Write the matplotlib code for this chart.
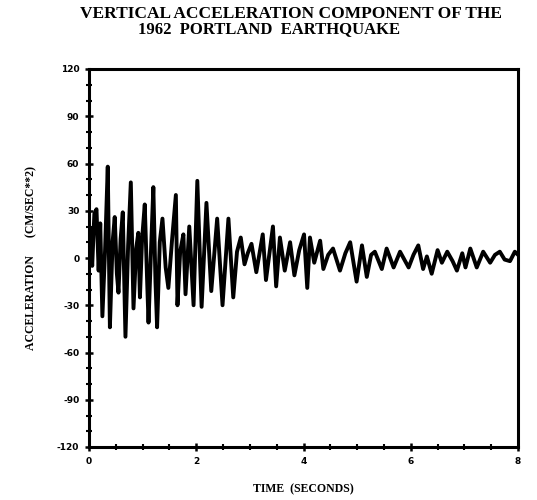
import matplotlib
matplotlib.use("Agg")
import matplotlib.pyplot as plt
from matplotlib.ticker import MultipleLocator

# extrema of the record (seconds, cm/sec^2)
time = [0.00, 0.03, 0.06, 0.10, 0.14, 0.18, 0.21, 0.25, 0.30, 0.35, 0.39,
        0.44, 0.48, 0.52, 0.55, 0.59, 0.63, 0.68, 0.73, 0.78, 0.83, 0.88,
        0.92, 0.95, 0.99, 1.04, 1.08, 1.11, 1.16, 1.20, 1.24, 1.27, 1.32,
        1.37, 1.43, 1.48, 1.55, 1.62, 1.65, 1.70, 1.76, 1.80, 1.87, 1.95,
        2.02, 2.10, 2.19, 2.28, 2.39, 2.49, 2.60, 2.69, 2.76, 2.83, 2.90,
        2.96, 3.03, 3.12, 3.24, 3.30, 3.43, 3.49, 3.56, 3.65, 3.75, 3.83,
        3.92, 4.01, 4.07, 4.12, 4.20, 4.31, 4.37, 4.46, 4.55, 4.68, 4.78,
        4.87, 4.99, 5.09, 5.18, 5.26, 5.33, 5.46, 5.55, 5.68, 5.80, 5.96,
        6.05, 6.14, 6.23, 6.30, 6.39, 6.50, 6.58, 6.68, 6.78, 6.86, 6.96,
        7.02, 7.11, 7.23, 7.35, 7.48, 7.57, 7.66, 7.75, 7.85, 7.94, 8.00]
accel = [0, 18, -5, 28, 31, -8, 22, -37, 5, 58, -44,
         10, 26, -10, -22, 12, 29, -50, 8, 48, -32, 6,
         16, -25, 12, 34, -10, -41, 8, 45, -15, -44, 10,
         25, -6, -19, 12, 40, -30, 4, 15, -23, 20, -30,
         49, -31, 35, -21, 25, -30, 25, -25, 4, 13, -4,
         3, 9, -9, 15, -14, 20, -18, 13, -8, 10, -11,
         5, 15, -19, 13, -3, 11, -7, 2, 6, -8, 3,
         10, -15, 8, -12, 2, 4, -7, 6, -6, 4, -6,
         2, 8, -7, 1, -10, 5, -3, 4, -2, -8, 3,
         -6, 6, -6, 4, -3, 2, 4, -1, -2, 4, 2]

yticks = [-120, -90, -60, -30, 0, 30, 60, 90, 120]
xticks = [0, 2, 4, 6, 8]

tickfont = {'family': 'DejaVu Sans', 'weight': 'bold', 'size': 6.5}

fig = plt.figure(figsize=(5.37, 5.0), dpi=100)
ax = fig.add_axes([0.1657, 0.106, 0.799, 0.756])

ax.plot(time, accel, color='black', linewidth=2.8, solid_joinstyle='round')

ax.set_xlim(0, 8)
ax.set_ylim(-120, 120)
ax.set_xticks(xticks)
ax.set_yticks(yticks)
ax.xaxis.set_minor_locator(MultipleLocator(0.5))
ax.yaxis.set_minor_locator(MultipleLocator(10))
ax.set_xticklabels([str(v) for v in xticks], fontdict=tickfont)
ax.set_yticklabels([str(v) for v in yticks], fontdict=tickfont)
ax.tick_params(which='major', direction='inout', length=6, width=1.8, pad=4)
ax.tick_params(which='minor', direction='inout', length=4, width=1.5)
for s in ax.spines.values():
    s.set_linewidth(2.2)

ax.set_xlabel('TIME  (SECONDS)', fontsize=8.5, fontweight='bold',
              family='Liberation Serif', labelpad=13)
ax.set_ylabel('ACCELERATION      (CM/SEC**2)', fontsize=8.5, fontweight='bold',
              family='Liberation Serif', labelpad=14)

fig.text(0.542, 0.973, 'VERTICAL ACCELERATION COMPONENT OF THE',
         ha='center', va='center', fontsize=12.5, fontweight='bold',
         family='Liberation Serif')
fig.text(0.50, 0.942, '1962  PORTLAND  EARTHQUAKE',
         ha='center', va='center', fontsize=12, fontweight='bold',
         family='Liberation Serif')

fig.savefig('out.png', dpi=100)
